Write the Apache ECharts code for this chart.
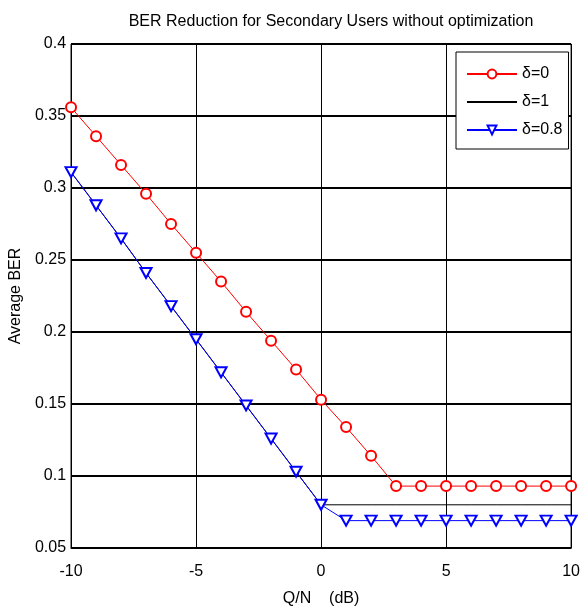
<!DOCTYPE html>
<html>
<head>
<meta charset="utf-8">
<script src="https://cdn.jsdelivr.net/npm/echarts@6/dist/echarts.min.js"></script>
<style>
html,body{margin:0;padding:0;background:#fff;}
#chart{width:583px;height:612px;}
</style>
</head>
<body>
<div id="chart"></div>
<script>
const xValues = [-10,-9,-8,-7,-6,-5,-4,-3,-2,-1,0,1,2,3,4,5,6,7,8,9,10];
const berDelta0 = [0.356,0.336,0.316,0.296,0.275,0.255,0.235,0.214,0.194,0.174,0.153,0.134,0.114,0.093,0.093,0.093,0.093,0.093,0.093,0.093,0.093];
const berDelta1 = [0.311,0.288,0.265,0.241,0.218,0.195,0.172,0.149,0.126,0.103,0.080,0.080,0.080,0.080,0.080,0.080,0.080,0.080,0.080,0.080,0.080];
const berDelta08 = [0.311,0.288,0.265,0.241,0.218,0.195,0.172,0.149,0.126,0.103,0.080,0.069,0.069,0.069,0.069,0.069,0.069,0.069,0.069,0.069,0.069];
const seriesNames = ['δ=0','δ=1','δ=0.8'];
const titleText = 'BER Reduction for Secondary Users without optimization';
const xLabel = 'Q/N    (dB)';
const yLabel = 'Average BER';

const pairs = arr => xValues.map((x,i)=>[x,arr[i]]);
const font = 'Liberation Sans, Arial, sans-serif';

const chart = echarts.init(document.getElementById('chart'), null, {renderer:'canvas'});
chart.setOption({
  animation:false,
  backgroundColor:'#fff',
  title:{
    text:titleText,
    left:326, top:9, textAlign:'center',
    textStyle:{fontFamily:font, fontSize:16, fontWeight:'normal', color:'#000'}
  },
  grid:{left:71, right:10, top:44, bottom:55, show:true, borderColor:'#000', borderWidth:1, backgroundColor:'transparent'},
  legend:{
    orient:'vertical', left:456, top:52,
    padding:[14,6,11,10], itemGap:12,
    itemWidth:50, itemHeight:11,
    borderColor:'#000', borderWidth:1, backgroundColor:'#fff',
    textStyle:{fontFamily:font, fontSize:16, color:'#000', padding:[0,0,0,0]},
    data:[
      {name:seriesNames[0]},
      {name:seriesNames[1], itemStyle:{opacity:0}},
      {name:seriesNames[2]}
    ]
  },
  xAxis:{
    type:'value', min:-10, max:10, interval:5,
    name:xLabel, nameLocation:'middle', nameGap:43,
    nameTextStyle:{fontFamily:font, fontSize:16, color:'#000'},
    axisLine:{show:true, onZero:false, lineStyle:{color:'#000', width:1}},
    axisTick:{show:true, inside:true, length:5, lineStyle:{color:'#000'}},
    axisLabel:{fontFamily:font, fontSize:16, color:'#000', margin:16},
    splitLine:{show:true, lineStyle:{color:'#000', width:1}}
  },
  yAxis:{
    type:'value', min:0.05, max:0.4, interval:0.05,
    name:yLabel, nameLocation:'middle', nameGap:41,
    nameTextStyle:{fontFamily:font, fontSize:16, color:'#000'},
    axisLine:{show:true, onZero:false, lineStyle:{color:'#000', width:1}},
    axisTick:{show:true, inside:true, length:5, lineStyle:{color:'#000'}},
    axisLabel:{fontFamily:font, fontSize:16, color:'#000', margin:5, padding:[0,0,7,0],
      formatter:v=>String(Math.round(v*100)/100)},
    splitLine:{show:true, lineStyle:{color:'#000', width:2}}
  },
  series:[
    {name:seriesNames[0], type:'line', data:pairs(berDelta0),
     symbol:'emptyCircle', symbolSize:10,
     lineStyle:{color:'#ff0000', width:1}, itemStyle:{color:'#ff0000', borderWidth:1}},
    {name:seriesNames[1], type:'line', data:pairs(berDelta1),
     symbol:'none', lineStyle:{color:'#000', width:1}, itemStyle:{color:'#000'}},
    {name:seriesNames[2], type:'line', data:pairs(berDelta08),
     symbol:'emptyTriangle', symbolSize:[11,10], symbolRotate:180,
     lineStyle:{color:'#0000ff', width:1}, itemStyle:{color:'#0000ff', borderWidth:1}}
  ]
});
</script>
</body>
</html>
